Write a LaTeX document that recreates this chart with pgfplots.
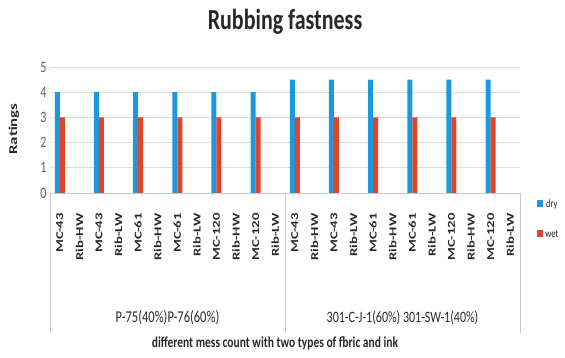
\documentclass[border=0pt]{standalone}
\usepackage{pgfplots}
\pgfplotsset{compat=1.18}
\usepackage{fontspec}
\setmainfont{Carlito}
\definecolor{cdry}{RGB}{28,152,220}
\definecolor{cwet}{RGB}{226,68,40}
\definecolor{txt}{RGB}{40,40,40}
\definecolor{gridc}{RGB}{215,222,226}
\newcommand\vs[1]{\scalebox{1}[1.32]{#1}}
\newcommand\hs[1]{\scalebox{1.4}[1]{#1}}
\begin{document}
\begin{tikzpicture}
\useasboundingbox (0,0) rectangle (565pt,358pt);
\begin{axis}[
  at={(50pt,165pt)}, anchor=south west,
  scale only axis, width=470pt, height=126pt,
  xmin=-0.5, xmax=23.5, ymin=0, ymax=5,
  ybar, bar width=5pt,
  axis line style={draw=none},
  clip=false,
  ytick={0,1,2,3,4,5},
  yticklabels={\vs{0},\vs{1},\vs{2},\vs{3},\vs{4},\vs{5}},
  yticklabel style={font=\fontsize{12}{12}\selectfont, text=txt!75},
  ymajorgrids, grid style={gridc, line width=0.8pt},
  major tick length=0pt,
  xtick={0,...,23},
  xticklabels={\hs{MC-43},\hs{Rib-HW},\hs{MC-43},\hs{Rib-LW},\hs{MC-61},\hs{Rib-HW},\hs{MC-61},\hs{Rib-LW},\hs{MC-120},\hs{Rib-HW},\hs{MC-120},\hs{Rib-LW},
               \hs{MC-43},\hs{Rib-HW},\hs{MC-43},\hs{Rib-LW},\hs{MC-61},\hs{Rib-HW},\hs{MC-61},\hs{Rib-LW},\hs{MC-120},\hs{Rib-HW},\hs{MC-120},\hs{Rib-LW}},
  xticklabel style={rotate=90, anchor=east, font=\bfseries\fontsize{10.5}{10.5}\selectfont, text=txt},
  xticklabel shift=17pt,
  legend style={at={(1.03,-0.02)}, anchor=north west, draw=none, fill=none,
    font=\fontsize{8.5}{8.5}\selectfont, text=txt, row sep=17pt,
    /tikz/every even column/.append style={column sep=1pt}},
  legend image code/.code={\fill[#1] (0pt,-3pt) rectangle (6pt,4pt);},
]
\addplot[fill=cdry, draw=none, bar shift=-2.5pt] coordinates {
  (0,4) (2,4) (4,4) (6,4) (8,4) (10,4)
  (12,4.5) (14,4.5) (16,4.5) (18,4.5) (20,4.5) (22,4.5)};
\addlegendentry{\vs{dry}}
\addplot[fill=cwet, draw=none, bar shift=2.5pt] coordinates {
  (0,3) (2,3) (4,3) (6,3) (8,3) (10,3)
  (12,3) (14,3) (16,3) (18,3) (20,3) (22,3)};
\addlegendentry{\vs{wet}}
\draw[gridc!80!gray, line width=0.8pt] (rel axis cs:0,0) -- (rel axis cs:1,0);
\draw[gridc!80!gray, line width=0.8pt] (rel axis cs:0,0) -- ([yshift=-140pt]rel axis cs:0,0);
\draw[gridc!80!gray, line width=0.8pt] (rel axis cs:0.5,0) -- ([yshift=-140pt]rel axis cs:0.5,0);
\draw[gridc!80!gray, line width=0.8pt] (rel axis cs:1,0) -- ([yshift=-140pt]rel axis cs:1,0);
\node[font=\fontsize{12.5}{12.5}\selectfont, text=txt] at ([yshift=-125pt]rel axis cs:0.25,0) {\vs{P-75(40\%)P-76(60\%)}};
\node[font=\fontsize{12}{12}\selectfont, text=txt] at ([yshift=-125pt]rel axis cs:0.75,0) {\vs{301-C-J-1(60\%) 301-SW-1(40\%)}};
\end{axis}
\node[font=\bfseries\fontsize{22}{22}\selectfont, text=txt] at (285pt,336pt) {\vs{Rubbing fastness}};
\node[font=\bfseries\fontsize{12}{12}\selectfont, text=txt, rotate=90] at (14pt,229pt) {\hs{Ratings}};
\node[font=\bfseries\fontsize{11.5}{11.5}\selectfont, text=txt] at (275pt,15pt) {\vs{different mess count with two types of fbric and ink}};
\end{tikzpicture}
\end{document}
